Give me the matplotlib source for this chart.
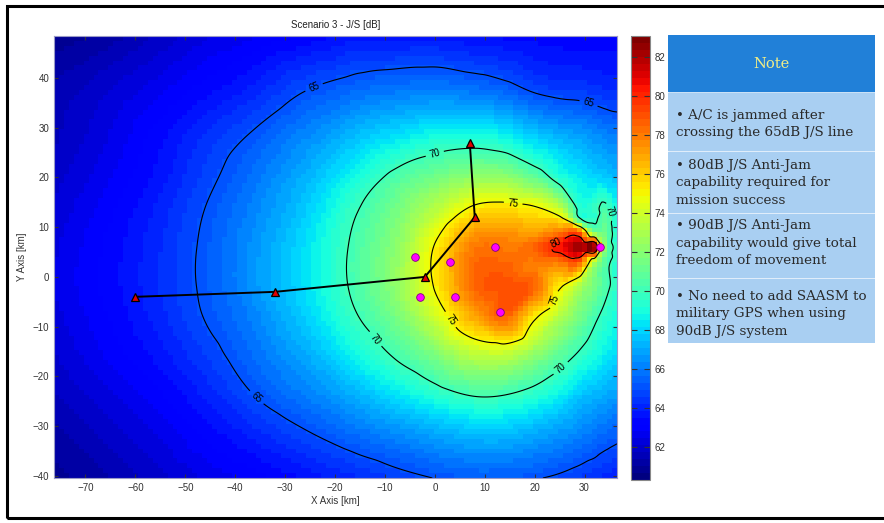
import numpy as np
import matplotlib
matplotlib.use('Agg')
import matplotlib.pyplot as plt
import matplotlib.tri as mtri
from matplotlib.patches import Rectangle

plt.rcParams['font.family'] = ['Liberation Sans', 'DejaVu Sans']

# J/S [dB] at these nodes (km)
grid_x = [-77, -66, -56, -46, -36, -26, -16, -8, 0, 8, 14, 20, 25, 29, 32, 34, 37]
grid_y = [49, 38, 28, 20, 14, 6, -2, -8, -16, -24, -32, -41]
js_db = [
    [60.7, 61.1, 61.7, 62.3, 62.7, 63.1, 63.6, 63.6, 63.6, 63.4, 63.3, 63.25, 63.2, 63.2, 63.2, 63.2, 63.2],
    [61.4, 62.0, 62.6, 63.3, 64.0, 64.9, 65.5, 65.8, 65.95, 65.7, 65.35, 64.75, 64.5, 64.45, 64.3, 64.2, 64.15],
    [61.6, 62.4, 63.3, 64.3, 65.2, 66.3, 67.5, 68.3, 69.0, 69.2, 68.8, 67.9, 67.3, 66.9, 66.55, 66.3, 66.0],
    [61.9, 62.7, 63.6, 64.7, 65.85, 67.2, 68.9, 70.4, 71.4, 72.3, 72.3, 71.0, 69.3, 68.5, 68.0, 67.8, 67.3],
    [62.1, 62.95, 63.9, 65.0, 66.2, 67.7, 69.8, 71.4, 73.2, 75.2, 75.5, 75.1, 73.4, 69.5, 69.6, 70.3, 68.6],
    [62.3, 63.2, 64.1, 65.2, 66.55, 68.2, 70.3, 72.1, 75.1, 78.0, 78.0, 78.6, 80.6, 82.4, 82.8, 72.3, 69.0],
    [62.4, 63.25, 64.15, 65.2, 66.6, 68.2, 70.3, 72.2, 75.1, 78.5, 79.0, 78.5, 75.2, 73.1, 71.6, 70.5, 69.2],
    [62.25, 63.1, 64.0, 65.05, 66.2, 67.85, 69.85, 71.5, 73.9, 77.0, 78.5, 75.3, 73.2, 71.5, 70.3, 69.6, 68.8],
    [62.0, 62.8, 63.6, 64.55, 65.7, 67.0, 68.7, 70.1, 71.6, 73.3, 73.4, 72.1, 70.75, 69.7, 69.0, 68.5, 67.9],
    [61.6, 62.3, 63.0, 63.9, 65.0, 66.0, 67.1, 68.2, 69.2, 70.0, 69.9, 69.3, 68.5, 67.6, 67.2, 67.0, 66.6],
    [61.2, 61.8, 62.4, 63.2, 64.0, 64.8, 65.6, 66.2, 66.8, 67.3, 67.3, 66.9, 66.5, 66.1, 65.8, 65.5, 65.2],
    [60.8, 61.3, 61.85, 62.4, 62.9, 63.5, 64.0, 64.5, 64.9, 65.15, 65.1, 64.95, 64.7, 64.4, 64.15, 64.0, 63.8],
]

# extra readings round the hot spot near the east jammer
spot_x = [20, 25, 29, 32, 34, 37, 14, 20, 25, 29, 32, 34, 37, 14, 20, 25, 29, 32, 34, 37]
spot_y = [12, 12, 12, 12, 12, 12, 9, 9, 9, 9, 9, 9, 9, 3, 3, 3, 3, 3, 3, 3]
spot_db = [75.8, 75.2, 69.8, 69.5, 70.8, 68.6,
           77.5, 77.0, 77.9, 78.3, 71.5, 71.2, 68.6,
           78.5, 78.0, 78.1, 78.7, 73.0, 70.8, 68.9]

# flight route (triangles) and jammers (dots)
route_x = [-60, -32, -2, 8, 7]
route_y = [-4, -3, 0, 12, 27]
jam_x = [-4, -3, 3, 4, 12, 13, 33]
jam_y = [4, -4, 3, -4, 6, -7, 6]

levels = [65, 70, 75, 80]
cbar_ticks = [62, 64, 66, 68, 70, 72, 74, 76, 78, 80, 82]

note_title = 'Note'
notes = [
    ['\u2022 A/C is jammed after', 'crossing the 65dB J/S line'],
    ['\u2022 80dB J/S Anti-Jam', 'capability required for', 'mission success'],
    ['\u2022 90dB J/S Anti-Jam', 'capability would give total', 'freedom of movement'],
    ['\u2022 No need to add SAASM to', 'military GPS when using', '90dB J/S system'],
]

W, H = 884, 523
fig = plt.figure(figsize=(W / 100, H / 100), dpi=100)

gx, gy = np.meshgrid(grid_x, grid_y)
px = np.concatenate([gx.ravel(), spot_x])
py = np.concatenate([gy.ravel(), spot_y])
pz = np.concatenate([np.array(js_db).ravel(), spot_db])
tri = mtri.Triangulation(px, py)
interp = mtri.CubicTriInterpolator(tri, pz, kind='geom')

xlim = (-76.3, 36.5)
ylim = (-40.4, 48.4)

ax = fig.add_axes([54 / W, 45 / H, 563 / W, 442 / H])
ex = np.linspace(xlim[0], xlim[1], 115)
ey = np.linspace(ylim[0], ylim[1], 91)
cx = (ex[:-1] + ex[1:]) / 2
cy = (ey[:-1] + ey[1:]) / 2
mx, my = np.meshgrid(cx, cy)
zc = interp(mx, my)
cmap = plt.get_cmap('jet', 64)
mesh = ax.pcolormesh(ex, ey, zc, cmap=cmap, vmin=60.3, vmax=83.1)

fx, fy = np.meshgrid(np.linspace(xlim[0], xlim[1], 450), np.linspace(ylim[0], ylim[1], 360))
zf = interp(fx, fy)
cs = ax.contour(fx, fy, zf, levels=levels, colors='k', linewidths=0.8)
ax.clabel(cs, fmt='%d', fontsize=7, inline=True, inline_spacing=4,
          manual=[(-24, 37.6), (31, 35.5), (-35.5, -24), (0, 24.7), (-12.6, -13),
                  (25.2, -18.3), (34.5, 13), (15.7, 14.9), (3.1, -8.6), (22.6, -4.2),
                  (24.6, 6)])

ax.plot(route_x, route_y, color='k', lw=1.4, zorder=3)
ax.plot(route_x, route_y, ls='none', marker='^', ms=6, mfc='#e00000', mec='k', mew=0.9, zorder=4)
ax.plot(jam_x, jam_y, ls='none', marker='o', ms=5.5, mfc='#ff00ff', mec='#800080', mew=0.6, zorder=4)

ax.set_xlim(xlim)
ax.set_ylim(ylim)
ax.set_xticks(range(-70, 31, 10))
ax.set_yticks(range(-40, 41, 10))
ax.tick_params(labelsize=7, direction='in', length=3, top=True, right=True, colors='#333333')
for sp in ax.spines.values():
    sp.set_color('#9a9ac8')
    sp.set_linewidth(0.8)
ax.set_title('Scenario 3 - J/S [dB]', fontsize=7, color='#222222', pad=6)
ax.set_xlabel('X Axis [km]', fontsize=7, color='#333333', labelpad=2)
ax.set_ylabel('Y Axis [km]', fontsize=7, color='#333333', labelpad=4)

cax = fig.add_axes([631 / W, 43 / H, 19 / W, 444 / H])
cb = fig.colorbar(mesh, cax=cax, ticks=cbar_ticks)
cb.outline.set_edgecolor('#888888')
cax.tick_params(labelsize=7, direction='in', length=4, left=True, right=True, colors='#333333')

# note panel, drawn in pixel units
nax = fig.add_axes([668 / W, 1 - 343 / H, 207 / W, 308 / H])
nax.set_xlim(0, 207)
nax.set_ylim(308, 0)
nax.axis('off')
nax.add_patch(Rectangle((0, 0), 207, 56, color='#2180d8'))
nax.text(103.5, 29, note_title, ha='center', va='center', fontsize=10.5,
         family='DejaVu Serif', color='#f2ee86')
row_top = [58, 117, 179, 244]
row_bot = [115, 177, 242, 308]
first_line = [80, 130, 191, 261]
for i, lines in enumerate(notes):
    nax.add_patch(Rectangle((0, row_top[i]), 207, row_bot[i] - row_top[i], color='#a9cff2'))
    for j, line in enumerate(lines):
        nax.text(8, first_line[i] + j * 17.5, line, ha='left', va='center', fontsize=9.7,
                 family='DejaVu Serif', color='#2a2a2a')

# black frame round the slide
fig.add_artist(Rectangle((7.5 / W, 5.5 / H), 1.0, 512 / H, fill=False, lw=2.2,
                         ec='k', transform=fig.transFigure, clip_on=False))

fig.savefig('out.png', dpi=100)
